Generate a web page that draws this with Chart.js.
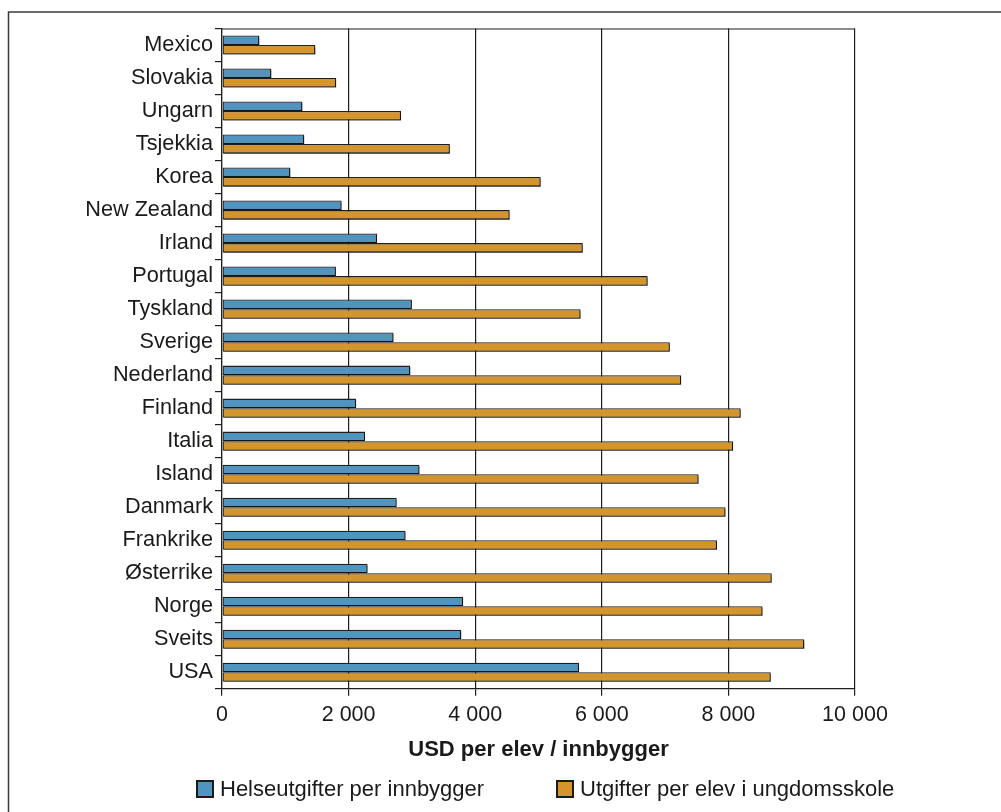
<!DOCTYPE html>
<html>
<head>
<meta charset="utf-8">
<script src="https://cdn.jsdelivr.net/npm/chart.js@4/dist/chart.umd.min.js"></script>
<style>
  html, body { margin: 0; padding: 0; background: #fff; }
  #wrap { position: relative; width: 1001px; height: 812px; }
  #legend { position: absolute; top: 779px; left: 196px; font-family: "Liberation Sans", Arial, sans-serif; font-size: 22px; color: #1a1a1a; }
  #legend .item { position: absolute; top: 0; display: flex; align-items: center; white-space: nowrap; height: 19px; }
  #legend .box { width: 14px; height: 14px; border: 2px solid #1a1a1a; margin-right: 6px; }
</style>
</head>
<body>
<div id="wrap">
  <canvas id="myChart" width="1001" height="812"></canvas>
  <div id="legend"></div>
</div>
<script>
// categories, top to bottom
const countries = ["Mexico", "Slovakia", "Ungarn", "Tsjekkia", "Korea", "New Zealand", "Irland", "Portugal", "Tyskland", "Sverige",
  "Nederland", "Finland", "Italia", "Island", "Danmark", "Frankrike", "Østerrike", "Norge", "Sveits", "USA"];

// USD
const helse = [590, 780, 1270, 1300, 1080, 1890, 2450, 1800, 3000, 2710,
  2975, 2120, 2260, 3120, 2760, 2900, 2300, 3810, 3780, 5640];
const ungdomsskole = [1475, 1805, 2830, 3600, 5035, 4545, 5700, 6725, 5665, 7075,
  7255, 8195, 8075, 7530, 7955, 7820, 8685, 8540, 9200, 8670];

const seriesNames = ["Helseutgifter per innbygger", "Utgifter per elev i ungdomsskole"];
const xTicks = [0, 2000, 4000, 6000, 8000, 10000];
const axisTitle = "USD per elev / innbygger";

const COLORS = {
  blue: '#4f95c0',
  orange: '#d4952c',
  line: '#1f1f1f',
  text: '#1a1a1a'
};
const FONT = '"Liberation Sans", Arial, sans-serif';

// top edge of the plot box + the outer frame (top and left only, rest is cut off)
const framePlugin = {
  id: 'frame',
  beforeDatasetsDraw(chart) {
    const ctx = chart.ctx, a = chart.chartArea;
    ctx.save();
    ctx.strokeStyle = COLORS.line;
    ctx.lineWidth = 1.2;
    ctx.beginPath();
    ctx.moveTo(a.left, a.top + 0.5);
    ctx.lineTo(a.right, a.top + 0.5);
    ctx.stroke();
    ctx.strokeStyle = '#3a3a3a';
    ctx.lineWidth = 1.5;
    ctx.beginPath();
    ctx.moveTo(8.5, 812);
    ctx.lineTo(8.5, 12);
    ctx.lineTo(1001, 12);
    ctx.stroke();
    // light drop shadow on the bars
    ctx.shadowColor = 'rgba(0,0,0,0.35)';
    ctx.shadowOffsetX = 1.5;
    ctx.shadowOffsetY = 1.5;
    ctx.shadowBlur = 0.5;
  },
  afterDatasetsDraw(chart) {
    chart.ctx.restore();
  }
};

const data = {
  labels: countries,
  datasets: [
    {
      label: seriesNames[0],
      data: helse,
      backgroundColor: COLORS.blue,
      borderColor: COLORS.line,
      borderWidth: 1.3,
      borderSkipped: false
    },
    {
      label: seriesNames[1],
      data: ungdomsskole,
      backgroundColor: COLORS.orange,
      borderColor: COLORS.line,
      borderWidth: 1.3,
      borderSkipped: false
    }
  ]
};

const config = {
  type: 'bar',
  data: data,
  plugins: [framePlugin],
  options: {
    indexAxis: 'y',
    responsive: false,
    animation: false,
    categoryPercentage: 0.58,
    barPercentage: 1.0,
    layout: { padding: { top: 28.5, right: 146, bottom: 47, left: 0 } },
    plugins: {
      legend: { display: false },
      tooltip: { enabled: false }
    },
    scales: {
      x: {
        min: 0,
        max: 10000,
        afterBuildTicks(scale) { scale.ticks = xTicks.map(v => ({ value: v })); },
        ticks: {
          color: COLORS.text,
          padding: 6,
          maxRotation: 0,
          font: { family: FONT, size: 21.5 },
          callback: v => String(v).replace(/\B(?=(\d{3})+(?!\d))/g, ' ')
        },
        grid: { color: COLORS.line, lineWidth: 1.2, tickLength: 7 },
        border: { color: COLORS.line, width: 1.2 },
        title: {
          display: true,
          text: axisTitle,
          color: COLORS.text,
          font: { family: FONT, size: 22, weight: 'bold' },
          padding: { top: 3, bottom: 2 }
        }
      },
      y: {
        afterFit(scale) { scale.width = 222; },
        ticks: {
          color: COLORS.text,
          padding: 2,
          font: { family: FONT, size: 21.7 }
        },
        grid: { offset: true, drawOnChartArea: false, color: COLORS.line, lineWidth: 1.2, tickLength: 7 },
        border: { color: COLORS.line, width: 1.2 }
      }
    }
  }
};

const myChart = new Chart(document.getElementById('myChart'), config);

// legend under the chart, built from the same names/colours
const legendEl = document.getElementById('legend');
const legendX = [0, 360];
seriesNames.forEach((name, i) => {
  const item = document.createElement('div');
  item.className = 'item';
  item.style.left = legendX[i] + 'px';
  const box = document.createElement('span');
  box.className = 'box';
  box.style.background = data.datasets[i].backgroundColor;
  const txt = document.createElement('span');
  txt.textContent = name;
  item.appendChild(box);
  item.appendChild(txt);
  legendEl.appendChild(item);
});
</script>
</body>
</html>
